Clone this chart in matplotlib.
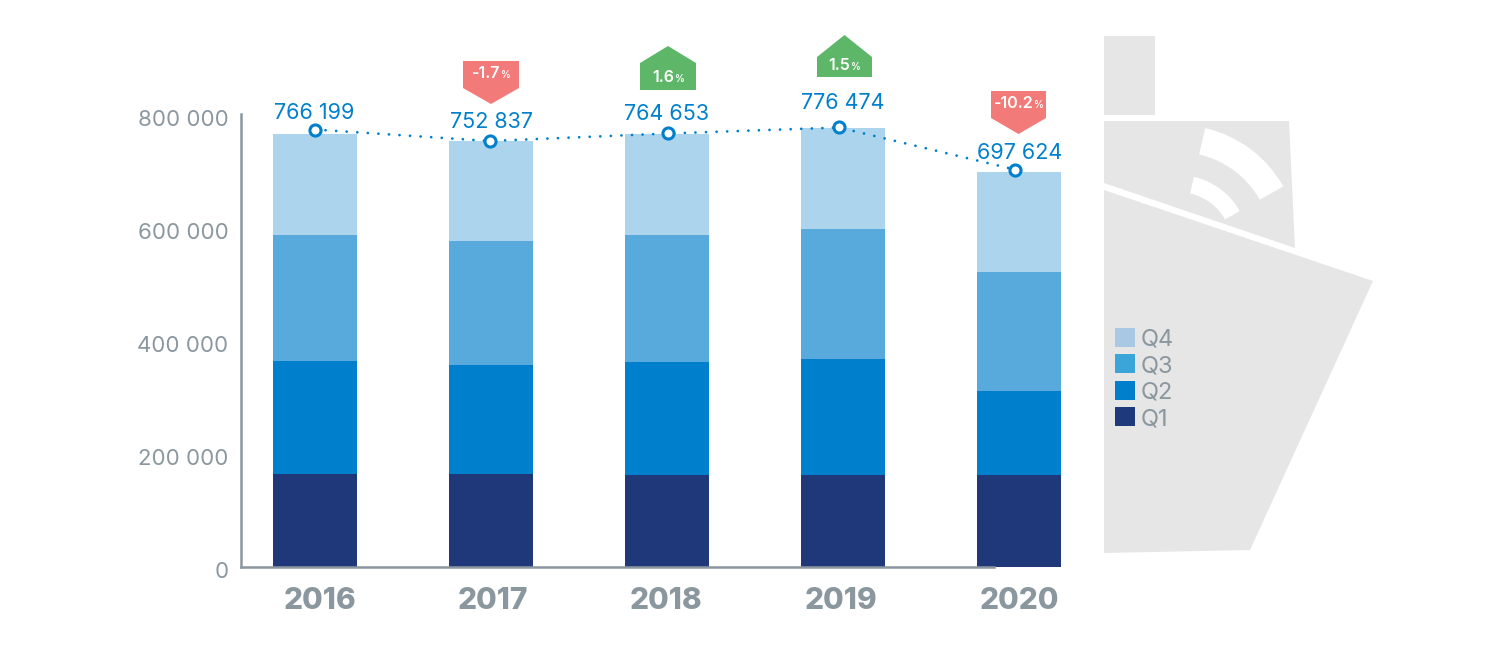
import matplotlib
matplotlib.use('Agg')
import matplotlib.pyplot as plt
from matplotlib.patches import Polygon, Rectangle, Wedge, Patch
from matplotlib.transforms import ScaledTranslation

# Werte
years = ['2016', '2017', '2018', '2019', '2020']
q1 = [163700, 164600, 161900, 161900, 161100]
q2 = [200000, 192000, 200000, 205400, 149500]
q3 = [223000, 219500, 224800, 229200, 209800]
q4 = [179499, 176737, 177953, 179974, 177224]
total_labels = ['766 199', '752 837', '764 653', '776 474', '697 624']
line_values = [773400, 753100, 766400, 777000, 702600]
line_shift = [0.0, -0.008, 0.006, -0.023, -0.023]
changes = ['-1.7', '1.6', '1.5', '-10.2']
yticks = [0, 200000, 400000, 600000, 800000]
ytick_labels = ['0', '200 000', '400 000', '600 000', '800 000']

GREY = '#8b979f'
BLUE = '#0080cc'
SHIP = '#e6e6e6'
RED = '#f27a78'
GREEN = '#5eb768'
bar_colors = ['#1f387a', '#0080cc', '#57aadb', '#acd4ed']
legend_colors = ['#a9c8e4', '#3ba5da', '#0080cc', '#1f3a7c']
FONT = 'Inter'

W, H = 1500, 650
fig = plt.figure(figsize=(15, 6.5), dpi=100)


def px_axes(zorder):
    a = fig.add_axes([0, 0, 1, 1], zorder=zorder)
    a.set_xlim(0, W)
    a.set_ylim(H, 0)
    a.axis('off')
    return a


# Schiff im Hintergrund
bg = px_axes(0)
bg.add_patch(Rectangle((1104, 36), 51, 79, color=SHIP, lw=0))
bg.add_patch(Polygon([(1104, 121), (1289, 121), (1295, 248), (1104, 183)], color=SHIP, lw=0))
bg.add_patch(Polygon([(1104, 190), (1373, 281), (1250, 550), (1104, 553)], color=SHIP, lw=0))
bg.add_patch(Wedge((1178, 246), 121, -77, -29.5, width=27, color='white', lw=0))
bg.add_patch(Wedge((1178, 246), 71, -77, -29.5, width=17, color='white', lw=0))

# Hauptdiagramm
ax = fig.add_axes([241 / W, 1 - 566.5 / H, 820 / W, 452 / H], zorder=1)
ax.patch.set_visible(False)
x = list(range(len(years)))
bottom = [0] * len(years)
for vals, col in zip([q1, q2, q3, q4], bar_colors):
    ax.bar(x, vals, width=84 / 176, bottom=bottom, color=col, linewidth=0, zorder=2)
    bottom = [b + v for b, v in zip(bottom, vals)]

line_x = [i + s for i, s in zip(x, line_shift)]
ax.plot(line_x, line_values, color=BLUE, lw=2.0, linestyle=(0, (0.01, 3.8)),
        dash_capstyle='round', zorder=3)
ax.plot(line_x, line_values, linestyle='none', marker='o', ms=8, mfc='white',
        mec=BLUE, mew=2.2, zorder=4)

ax.set_xlim(-74 / 176, 4 + 42 / 176)
ax.set_ylim(0, 800000)
ax.spines['top'].set_visible(False)
ax.spines['right'].set_visible(False)
for side in ['left', 'bottom']:
    ax.spines[side].set_color(GREY)
    ax.spines[side].set_linewidth(1.8)
ax.spines['bottom'].set_bounds(-74 / 176, 3.86)

ax.set_yticks(yticks)
ax.set_yticklabels(ytick_labels, fontsize=16, color=GREY, family=FONT)
ax.set_xticks(x)
ax.set_xticklabels(years, fontsize=21.5, color=GREY, family=FONT, fontweight='heavy')
ax.tick_params(axis='y', length=0, pad=9)
ax.tick_params(axis='x', length=0, pad=15)
for lab in ax.get_yticklabels():
    lab.set_transform(lab.get_transform() + ScaledTranslation(0, -3.5 / 100, fig.dpi_scale_trans))
for lab, dx in zip(ax.get_xticklabels(), [5, 2, -1, -2, 0]):
    lab.set_transform(lab.get_transform() + ScaledTranslation(dx / 100, 0, fig.dpi_scale_trans))

# Legende
handles = [Patch(color=c, lw=0) for c in legend_colors]
fig.legend(handles, ['Q4', 'Q3', 'Q2', 'Q1'], loc='upper left',
           bbox_to_anchor=(1115 / W, 1 - 328 / H), bbox_transform=fig.transFigure,
           frameon=False, borderpad=0, borderaxespad=0, handlelength=0.85, handleheight=0.85,
           handletextpad=0.25, labelspacing=0.165, labelcolor=GREY,
           prop={'family': FONT, 'size': 17})

# Werte und Pfeile
top = px_axes(3)
label_pos = [(314, 113), (491, 122), (667, 114), (843, 103), (1020, 153)]
for (lx, ly), txt in zip(label_pos, total_labels):
    top.text(lx, ly, txt, color=BLUE, fontsize=15.5, family=FONT, ha='center', va='center')


def badge(cx, yflat, yshoulder, ytip, half, col, value, ytext):
    top.add_patch(Polygon([(cx - half, yflat), (cx + half, yflat), (cx + half, yshoulder),
                           (cx, ytip), (cx - half, yshoulder)], color=col, lw=0))
    t = top.text(cx - 5, ytext, value, color='white', fontsize=11.5, family=FONT,
                 fontweight='semibold', ha='center', va='center')
    fig.canvas.draw()
    bb = t.get_window_extent()
    top.text(bb.x1 + 1, ytext + 1.5, '%', color='white', fontsize=7, family=FONT,
             fontweight='semibold', ha='left', va='center')


badge(491, 61, 88, 104, 28, RED, changes[0], 74)
badge(668, 90, 63, 46, 28, GREEN, changes[1], 77)
badge(844.5, 77, 57, 35, 27.5, GREEN, changes[2], 66)
badge(1018.5, 91, 118, 134, 27.5, RED, changes[3], 103)

fig.savefig('out.png', dpi=100)
